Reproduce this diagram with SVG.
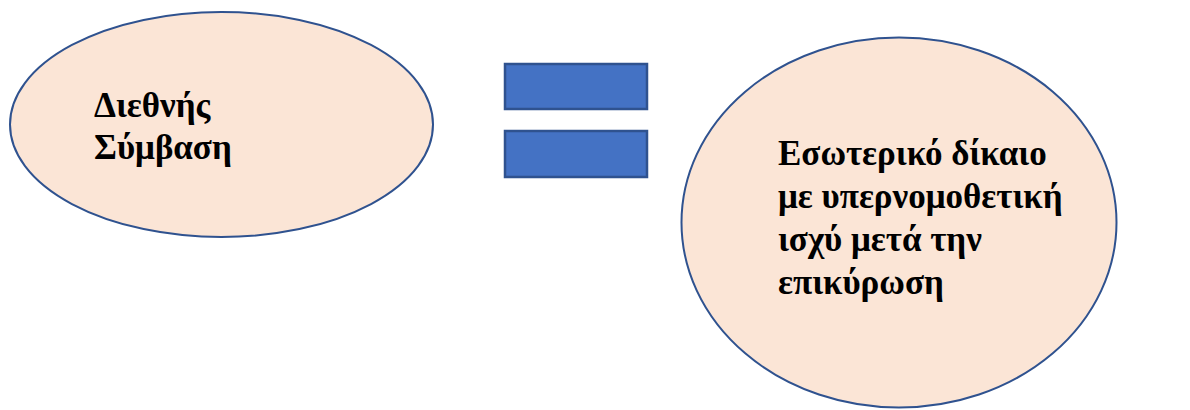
<svg xmlns="http://www.w3.org/2000/svg" width="1190" height="410" viewBox="0 0 1190 410">
<style>
.node ellipse{fill:#FBE5D6;stroke:#2F528F;stroke-width:2}
.bar{fill:#4472C4;stroke:#2F528F;stroke-width:2.5}
text{font-family:"Liberation Serif","Times New Roman",serif;font-weight:bold;font-size:35px;fill:#000}
</style>
<rect width="1190" height="410" fill="#fff"/>
<g id="left" class="node">
<ellipse cx="221.5" cy="124.5" rx="211.5" ry="112.5"/>
<text x="94" y="117">Διεθνής</text>
<text x="94" y="159">Σύμβαση</text>
</g>
<g id="equals">
<rect class="bar" x="505" y="64" width="142" height="45"/>
<rect class="bar" x="505" y="131" width="142" height="46"/>
</g>
<g id="right" class="node">
<ellipse cx="899" cy="222.5" rx="217.5" ry="185"/>
<text x="778" y="165">Εσωτερικό δίκαιο</text>
<text x="778" y="208">με υπερνομοθετική</text>
<text x="778" y="251">ισχύ μετά την</text>
<text x="778" y="294">επικύρωση</text>
</g>
<g id="connectors"></g>
</svg>
